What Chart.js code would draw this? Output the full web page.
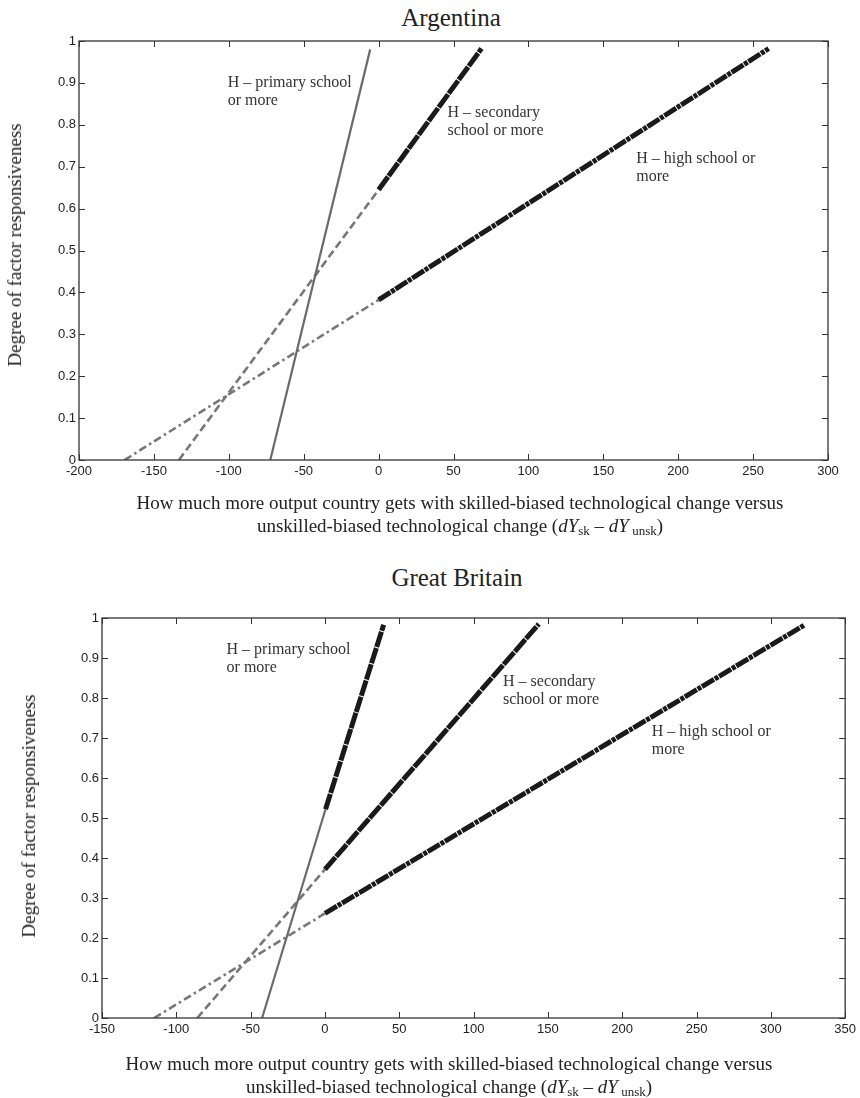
<!DOCTYPE html>
<html>
<head>
<meta charset="utf-8">
<script src="https://cdn.jsdelivr.net/npm/chart.js@4.4.1/dist/chart.umd.min.js"></script>
<style>
  body { margin: 0; background: #fff; width: 860px; height: 1098px; position: relative; overflow: hidden;
         font-family: "Liberation Serif", "Times New Roman", serif; color: #222; }
  canvas { position: absolute; left: 0; }
  .title { position: absolute; font-size: 25px; transform: translate(-50%, -50%); white-space: nowrap; }
  .xlab { position: absolute; font-size: 19px; line-height: 23px; text-align: center; transform: translateX(-50%); white-space: nowrap; }
  .ylab { position: absolute; font-size: 19px; white-space: nowrap; transform: translate(-50%, -50%) rotate(-90deg); }
  sub { font-size: 13px; vertical-align: -3px; line-height: 0; }
</style>
</head>
<body>

<div class="title" style="left:451px; top:18px;">Argentina</div>
<canvas id="argChart" width="860" height="545" style="top:0;"></canvas>
<div class="ylab" style="left:15px; top:245px;">Degree of factor responsiveness</div>
<div class="xlab" style="left:460px; top:491px;">How much more output country gets with skilled-biased technological change versus<br>unskilled-biased technological change (<i>dY</i><sub>sk</sub> – <i>dY</i><sub> unsk</sub>)</div>

<div class="title" style="left:457px; top:578px;">Great Britain</div>
<canvas id="gbChart" width="860" height="553" style="top:545px;"></canvas>
<div class="ylab" style="left:29px; top:816px;">Degree of factor responsiveness</div>
<div class="xlab" style="left:449px; top:1052px;">How much more output country gets with skilled-biased technological change versus<br>unskilled-biased technological change (<i>dY</i><sub>sk</sub> – <i>dY</i><sub> unsk</sub>)</div>

<script>
// Argentina - each H definition: grey part (x < 0) and black part (x >= 0)
const argPrimaryX = [-72.3, -5.6];
const argPrimaryY = [0, 0.98];
const argSecondaryGreyX = [-133.3, 0];
const argSecondaryGreyY = [0, 0.645];
const argSecondaryX = [0, 68.7];
const argSecondaryY = [0.645, 0.982];
const argHighGreyX = [-169.6, 0];
const argHighGreyY = [0, 0.382];
const argHighX = [0, 260.4];
const argHighY = [0.382, 0.982];
const argXTicks = [-200, 300, 50];

// Great Britain
const gbPrimaryGreyX = [-42.3, 0.4];
const gbPrimaryGreyY = [0, 0.522];
const gbPrimaryX = [0.4, 39.5];
const gbPrimaryY = [0.522, 0.983];
const gbSecondaryGreyX = [-85.9, 0];
const gbSecondaryGreyY = [0, 0.3715];
const gbSecondaryX = [0, 143.9];
const gbSecondaryY = [0.3715, 0.985];
const gbHighGreyX = [-114.9, 0];
const gbHighGreyY = [0, 0.2614];
const gbHighX = [0, 322.8];
const gbHighY = [0.2614, 0.983];
const gbXTicks = [-150, 350, 50];

const yTicks = [0, 1, 0.1];

// line labels, anchored in data units
const labelLines = {
  primary: ['H – primary school', 'or more'],
  secondary: ['H – secondary', 'school or more'],
  high: ['H – high school or', 'more']
};
const argLabelX = [-100.7, 46, 172];
const argLabelY = [0.9, 0.829, 0.72];
const gbLabelX = [-66.2, 119.8, 219.9];
const gbLabelY = [0.9206, 0.841, 0.716];

function pts(xs, ys) {
  return xs.map((x, i) => ({ x: x, y: ys[i] }));
}

const greySolid = { borderColor: '#6a6a6a', borderWidth: 2.2 };
const greyDash = { borderColor: '#777', borderWidth: 2.6, borderDash: [8, 4] };
const greyDashDot = { borderColor: '#777', borderWidth: 2.6, borderDash: [8, 3.5, 2.5, 3.5] };
const blackDash = { borderColor: '#1a1a1a', borderWidth: 5, borderDash: [16, 1] };
const blackDashDot = { borderColor: '#1a1a1a', borderWidth: 5, borderDash: [14, 1, 4, 1] };

function ds(data, style) {
  return Object.assign({ data: data, showLine: true, pointRadius: 0, borderCapStyle: 'butt', fill: false }, style);
}

// box round the plot with ticks pointing inward on all four sides
const framePlugin = {
  id: 'frame',
  afterDraw(chart) {
    const ctx = chart.ctx;
    const a = chart.chartArea;
    const x = chart.scales.x, y = chart.scales.y;
    const len = 6;
    ctx.save();
    ctx.strokeStyle = '#333';
    ctx.lineWidth = 1.3;
    ctx.strokeRect(a.left, a.top, a.right - a.left, a.bottom - a.top);
    ctx.lineWidth = 1;
    ctx.beginPath();
    x.ticks.forEach(t => {
      const px = Math.round(x.getPixelForValue(t.value)) + 0.5;
      ctx.moveTo(px, a.bottom); ctx.lineTo(px, a.bottom - len);
      ctx.moveTo(px, a.top); ctx.lineTo(px, a.top + len);
    });
    y.ticks.forEach(t => {
      const py = Math.round(y.getPixelForValue(t.value)) + 0.5;
      ctx.moveTo(a.left, py); ctx.lineTo(a.left + len, py);
      ctx.moveTo(a.right, py); ctx.lineTo(a.right - len, py);
    });
    ctx.stroke();
    ctx.restore();
  }
};

const labelPlugin = {
  id: 'lineLabels',
  afterDatasetsDraw(chart, args, opts) {
    const ctx = chart.ctx;
    const x = chart.scales.x, y = chart.scales.y;
    const keys = ['primary', 'secondary', 'high'];
    ctx.save();
    ctx.font = '16px "Liberation Serif", "Times New Roman", serif';
    ctx.fillStyle = '#333';
    ctx.textBaseline = 'middle';
    ctx.textAlign = 'left';
    keys.forEach((k, i) => {
      const px = x.getPixelForValue(opts.xs[i]);
      const py = y.getPixelForValue(opts.ys[i]);
      labelLines[k].forEach((line, j) => ctx.fillText(line, px, py + j * 18));
    });
    ctx.restore();
  }
};

function makeChart(id, datasets, xTicks, yWidth, padding, labelXs, labelYs) {
  return new Chart(document.getElementById(id), {
    type: 'scatter',
    data: { datasets: datasets },
    plugins: [framePlugin, labelPlugin],
    options: {
      responsive: false,
      animation: false,
      devicePixelRatio: 1,
      layout: { padding: padding },
      plugins: {
        legend: { display: false },
        tooltip: { enabled: false },
        lineLabels: { xs: labelXs, ys: labelYs }
      },
      scales: {
        x: {
          type: 'linear',
          min: xTicks[0],
          max: xTicks[1],
          grid: { display: false, drawTicks: false },
          border: { display: false },
          ticks: {
            stepSize: xTicks[2],
            autoSkip: false,
            maxRotation: 0,
            padding: 4,
            color: '#222',
            font: { family: '"Liberation Sans", Arial, sans-serif', size: 13 }
          },
          afterFit(s) { s.height = 22; }
        },
        y: {
          type: 'linear',
          min: yTicks[0],
          max: yTicks[1],
          grid: { display: false, drawTicks: false },
          border: { display: false },
          ticks: {
            stepSize: yTicks[2],
            padding: 3,
            color: '#222',
            font: { family: '"Liberation Sans", Arial, sans-serif', size: 13 },
            callback: v => String(Math.round(v * 10) / 10)
          },
          afterFit(s) { s.width = yWidth; }
        }
      }
    }
  });
}

makeChart('argChart', [
  ds(pts(argPrimaryX, argPrimaryY), greySolid),
  ds(pts(argSecondaryGreyX, argSecondaryGreyY), greyDash),
  ds(pts(argHighGreyX, argHighGreyY), greyDashDot),
  ds(pts(argSecondaryX, argSecondaryY), blackDash),
  ds(pts(argHighX, argHighY), blackDashDot)
], argXTicks, 79, { top: 41, right: 32, bottom: 63, left: 0 }, argLabelX, argLabelY);

makeChart('gbChart', [
  ds(pts(gbPrimaryGreyX, gbPrimaryGreyY), greySolid),
  ds(pts(gbSecondaryGreyX, gbSecondaryGreyY), greyDash),
  ds(pts(gbHighGreyX, gbHighGreyY), greyDashDot),
  ds(pts(gbPrimaryX, gbPrimaryY), blackDash),
  ds(pts(gbSecondaryX, gbSecondaryY), blackDash),
  ds(pts(gbHighX, gbHighY), blackDashDot)
], gbXTicks, 102, { top: 73, right: 13, bottom: 58, left: 0 }, gbLabelX, gbLabelY);
</script>
</body>
</html>
